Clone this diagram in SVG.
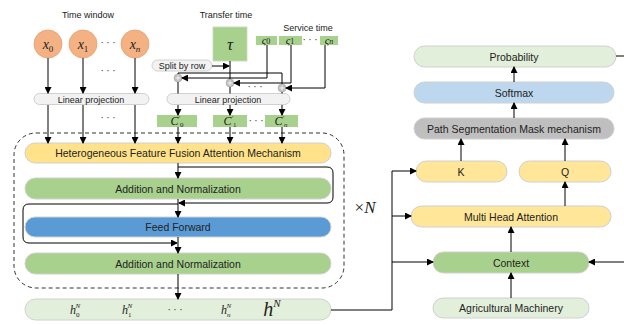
<svg xmlns="http://www.w3.org/2000/svg" width="624" height="325" viewBox="0 0 624 325">
<defs>
<marker id="ah" markerWidth="7" markerHeight="7" refX="6" refY="3.5" orient="auto" markerUnits="userSpaceOnUse">
<path d="M0,0 L7,3.5 L0,7 Z" fill="#000"/>
</marker>
<style>
.lbl{font-family:"Liberation Sans",Arial,sans-serif;font-size:10.5px;fill:#222;text-anchor:middle;dominant-baseline:central}
.sm{font-size:9px}
.math{font-family:"Liberation Serif","Times New Roman",serif;font-style:italic;fill:#222;text-anchor:middle}
.ln{stroke:#000;stroke-width:1;fill:none}
.arr{stroke:#000;stroke-width:1;fill:none;marker-end:url(#ah)}
.pill{stroke:#d0d0d0;stroke-width:1}
.circ{fill:#F4B183;stroke:#E8A070;stroke-width:0.8}
.plus{fill:#BFBFBF;stroke:#A6A6A6;stroke-width:0.6}
.dots{font-family:"Liberation Serif",serif;font-size:10px;fill:#222;text-anchor:middle}
</style>
</defs>
<rect width="624" height="325" fill="#fff"/>

<!-- Labels -->
<text class="lbl sm" x="88" y="15">Time window</text>
<text class="lbl sm" x="226" y="15">Transfer time</text>
<text class="lbl sm" x="308" y="28">Service time</text>

<!-- Time window nodes -->
<g id="x0"><circle class="circ" cx="48" cy="44" r="14"/><text class="math" x="48" y="49" font-size="14">x<tspan font-size="9" font-style="normal" dy="3">0</tspan></text></g>
<g id="x1"><circle class="circ" cx="83" cy="44" r="14"/><text class="math" x="83" y="49" font-size="14">x<tspan font-size="9" font-style="normal" dy="3">1</tspan></text></g>
<g id="xn"><circle class="circ" cx="135" cy="44" r="14"/><text class="math" x="135" y="49" font-size="14">x<tspan font-size="9" dy="3">n</tspan></text></g>
<text class="dots" x="108" y="46">· · ·</text>
<text class="dots" x="108" y="74">· · ·</text>
<text class="dots" x="108" y="121">· · ·</text>

<g id="linproj1"><rect class="pill" x="34" y="93.5" width="115" height="11" rx="5.5" fill="#F2F2F2"/><text class="lbl sm" x="91" y="99.5">Linear projection</text></g>

<!-- Transfer time / service time -->
<g id="tau"><rect x="213" y="27" width="34" height="34" fill="#A9D18E" stroke="#c6dcb4" stroke-width="0.8"/><text class="math" x="230" y="50" font-size="17">τ</text></g>
<g id="s0"><rect x="256" y="36" width="21" height="9" fill="#A9D18E"/><text class="math" x="266" y="44" font-size="11">ς<tspan font-size="8" font-style="normal">0</tspan></text></g>
<g id="s1"><rect x="279" y="36" width="23" height="9" fill="#A9D18E"/><text class="math" x="290" y="44" font-size="11">ς<tspan font-size="8" font-style="normal">1</tspan></text></g>
<text class="dots" x="310" y="43" font-size="8">· · ·</text>
<g id="sn"><rect x="320" y="36" width="18" height="9" fill="#A9D18E"/><text class="math" x="329" y="44" font-size="11">ς<tspan font-size="8">n</tspan></text></g>

<g id="split"><rect class="pill" x="152" y="60" width="60" height="11" rx="5.5" fill="#F2F2F2"/><text class="lbl sm" x="182" y="65.5">Split by row</text></g>

<g id="plus0"><circle class="plus" cx="178" cy="78" r="4"/><path d="M175.5,78 h5 M178,75.5 v5" stroke="#fff" stroke-width="0.8"/></g>
<g id="plus1"><circle class="plus" cx="230" cy="83" r="4"/><path d="M227.5,83 h5 M230,80.5 v5" stroke="#fff" stroke-width="0.8"/></g>
<g id="plus2"><circle class="plus" cx="282" cy="88" r="4"/><path d="M279.5,88 h5 M282,85.5 v5" stroke="#fff" stroke-width="0.8"/></g>
<text class="dots" x="255" y="90">· · ·</text>

<g id="linproj2"><rect class="pill" x="167" y="93.5" width="123" height="11" rx="5.5" fill="#F2F2F2"/><text class="lbl sm" x="228" y="99.5">Linear projection</text></g>

<g id="c0"><rect x="157" y="115" width="40" height="12" fill="#A9D18E"/><text class="math" x="177" y="125" font-size="12">C<tspan font-size="7" dy="-5">′</tspan><tspan font-size="7" font-style="normal" dy="7">0</tspan></text></g>
<g id="c1"><rect x="213" y="115" width="34" height="12" fill="#A9D18E"/><text class="math" x="230" y="125" font-size="12">C<tspan font-size="7" dy="-5">′</tspan><tspan font-size="7" font-style="normal" dy="7">1</tspan></text></g>
<text class="dots" x="256" y="124">· · ·</text>
<g id="cn"><rect x="265" y="115" width="33" height="12" fill="#A9D18E"/><text class="math" x="281" y="125" font-size="12">C<tspan font-size="7" dy="-5">′</tspan><tspan font-size="7" dy="7">n</tspan></text></g>

<!-- Encoder block -->
<rect x="14" y="133" width="330" height="155" rx="22" fill="none" stroke="#333" stroke-width="1" stroke-dasharray="4,3"/>
<g id="hffa"><rect class="pill" x="25" y="143" width="306" height="20" rx="10" fill="#FFE28A"/><text class="lbl" x="178" y="153">Heterogeneous Feature Fusion Attention Mechanism</text></g>
<g id="addnorm1"><rect class="pill" x="25" y="178" width="306" height="21" rx="10.5" fill="#A9D18E"/><text class="lbl" x="178" y="188.5">Addition and Normalization</text></g>
<g id="ff"><rect class="pill" x="25" y="217" width="306" height="20" rx="10" fill="#5B9BD5"/><text class="lbl" x="178" y="227">Feed Forward</text></g>
<g id="addnorm2"><rect class="pill" x="25" y="253" width="306" height="21" rx="10.5" fill="#A9D18E"/><text class="lbl" x="178" y="263.5">Addition and Normalization</text></g>
<text x="365" y="213" font-family="Liberation Serif,serif" font-size="17" fill="#222" text-anchor="middle">×<tspan font-style="italic">N</tspan></text>

<g id="hN"><rect class="pill" x="25" y="299" width="306" height="21" rx="10.5" fill="#E2EFDA"/>
<text class="math" x="75" y="314" font-size="12">h<tspan font-size="7" font-style="normal" dy="3">0</tspan><tspan font-size="7" dy="-9" dx="-4">N</tspan></text>
<text class="math" x="127" y="314" font-size="12">h<tspan font-size="7" font-style="normal" dy="3">1</tspan><tspan font-size="7" dy="-9" dx="-4">N</tspan></text>
<text class="dots" x="175" y="313">· · ·</text>
<text class="math" x="226" y="314" font-size="12">h<tspan font-size="7" dy="3">n</tspan><tspan font-size="7" dy="-9" dx="-4">N</tspan></text>
<text class="math" x="272" y="316" font-size="20">h<tspan font-size="11" dy="-9">N</tspan></text>
</g>

<!-- Decoder side -->
<g id="prob"><rect class="pill" x="414" y="46" width="202" height="21" rx="10.5" fill="#E2EFDA"/><text class="lbl" x="514" y="56.5">Probability</text></g>
<g id="softmax"><rect class="pill" x="414" y="82" width="200" height="21" rx="10.5" fill="#BDD7EE"/><text class="lbl" x="514" y="92.5">Softmax</text></g>
<g id="psm"><rect class="pill" x="414" y="118" width="200" height="21" rx="10.5" fill="#BFBFBF"/><text class="lbl" x="514" y="128.5">Path Segmentation Mask mechanism</text></g>
<g id="k"><rect class="pill" x="416" y="161" width="91" height="21" rx="10.5" fill="#FFE699"/><text class="lbl" x="461" y="171.5">K</text></g>
<g id="q"><rect class="pill" x="519" y="161" width="92" height="21" rx="10.5" fill="#FFE699"/><text class="lbl" x="565" y="171.5">Q</text></g>
<g id="mha"><rect class="pill" x="411" y="206" width="200" height="21" rx="10.5" fill="#FFE699"/><text class="lbl" x="511" y="216.5">Multi Head Attention</text></g>
<g id="context"><rect class="pill" x="433" y="252" width="156" height="21" rx="10.5" fill="#A9D18E"/><text class="lbl" x="511" y="262.5">Context</text></g>
<g id="agri"><rect class="pill" x="433" y="298" width="156" height="20" rx="10" fill="#E2EFDA"/><text class="lbl" x="511" y="308">Agricultural Machinery</text></g>

<!-- Connectors -->
<g id="connectors">
<path class="arr" d="M48,58 V93"/>
<path class="arr" d="M83,58 V93"/>
<path class="arr" d="M135,58 V93"/>
<path class="arr" d="M48,105 V143"/>
<path class="arr" d="M83,105 V143"/>
<path class="arr" d="M135,105 V143"/>

<path class="ln" d="M230,61 V79"/>
<path class="arr" d="M212,66 H229"/>
<path class="ln" d="M178,74 V73 H282 V84"/>
<path class="arr" d="M267,45 V78 H182"/>
<path class="arr" d="M291,45 V83 H234"/>
<path class="arr" d="M325,45 V88 H286"/>
<path class="ln" d="M178,82 V93.5"/>
<path class="ln" d="M230,87 V93.5"/>
<path class="ln" d="M282,92 V93.5"/>
<path class="arr" d="M178,105 V115"/>
<path class="arr" d="M230,105 V115"/>
<path class="arr" d="M282,105 V115"/>
<path class="arr" d="M178,127 V143"/>
<path class="arr" d="M230,127 V143"/>
<path class="arr" d="M282,127 V143"/>

<path class="arr" d="M178,163 V178"/>
<path class="arr" d="M178,167 H327 Q333,167 333,173 V197 Q333,203 327,203 H179"/>
<path class="arr" d="M178,199 V217"/>
<path class="arr" d="M178,204 H29 Q23,204 23,210 V237 Q23,243 29,243 H177"/>
<path class="arr" d="M178,237 V253"/>
<path class="arr" d="M178,274 V299"/>

<path class="ln" d="M331,310 H392 V171"/>
<path class="arr" d="M392,171 H416"/>
<path class="arr" d="M392,216 H411"/>
<path class="arr" d="M392,262 H433"/>

<path class="arr" d="M511,298 V273"/>
<path class="arr" d="M511,252 V227"/>
<path class="arr" d="M565,206 V182"/>
<path class="arr" d="M461,161 V139"/>
<path class="arr" d="M565,161 V139"/>
<path class="arr" d="M514,118 V103"/>
<path class="arr" d="M514,82 V67"/>
<path class="ln" d="M616,56 H624"/>
<path class="arr" d="M624,262 H589"/>
</g>
</svg>
